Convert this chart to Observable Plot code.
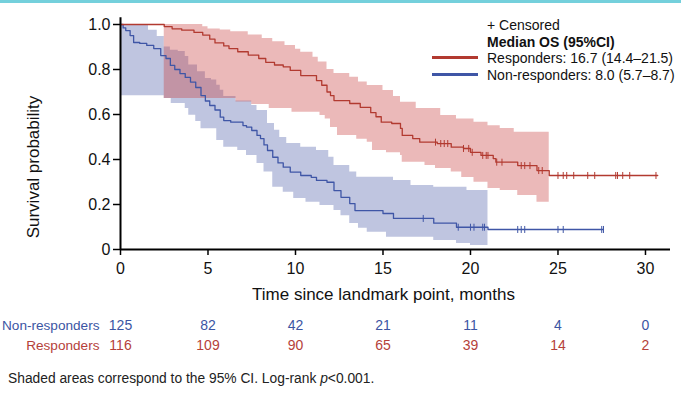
<!DOCTYPE html>
<html>
<head>
<meta charset="utf-8">
<script src="https://cdn.jsdelivr.net/npm/d3@7"></script>
<script src="https://cdn.jsdelivr.net/npm/@observablehq/plot@0.6"></script>
<style>
  html, body { margin: 0; padding: 0; background: #fff; }
  body { width: 681px; height: 396px; overflow: hidden; font-family: "Liberation Sans", Arial, sans-serif; }
  #wrap { position: relative; width: 681px; height: 396px; }
  #topbar { height: 3px; background: #74d0dc; }
  .lg { position: absolute; font-size: 14px; color: #111; white-space: nowrap; line-height: 16px; }
  .sw { position: absolute; height: 3px; width: 46px; }
  #cap { position: absolute; left: 8px; top: 371px; font-size: 13.8px; color: #222; white-space: nowrap; }
</style>
</head>
<body>
<div id="wrap">
  <div id="topbar"></div>
  <div id="chart"></div>
  <div class="lg" style="left:487px; top:17px;">+ Censored</div>
  <div class="lg" style="left:487px; top:34px; font-weight:bold;">Median OS (95%CI)</div>
  <div class="sw" style="left:432px; top:56px; background:#b23a30;"></div>
  <div class="lg" style="left:487px; top:50px;">Responders: 16.7 (14.4–21.5)</div>
  <div class="sw" style="left:432px; top:73px; background:#3f56a6;"></div>
  <div class="lg" style="left:487px; top:67px;">Non-responders: 8.0 (5.7–8.7)</div>
  <div id="cap">Shaded areas correspond to the 95% CI. Log-rank <i>p</i>&lt;0.001.</div>
</div>
<script>
// ---------- data ----------
const xTicks = [0, 5, 10, 15, 20, 25, 30];
const yTicks = [0, 0.2, 0.4, 0.6, 0.8, 1.0];
const groups = ["Non-responders", "Responders"];
const riskNon = [125, 82, 42, 21, 11, 4, 0];
const riskResp = [116, 109, 90, 65, 39, 14, 2];

// Responders KM (step-after)
const respT = [0, 2.5, 2.95, 3.5, 4.2, 4.7, 5.1, 5.4, 5.9, 6.2, 6.7, 7.3, 7.9, 8.3, 8.8, 9.3, 9.7, 10.3, 11.2, 11.5, 11.8, 12.0, 12.2, 13.1, 13.7, 14.3, 14.6, 14.9, 15.5, 16.0, 16.1, 16.7, 17.1, 18.1, 18.9, 19.6, 20.0, 20.6, 21.3, 21.45, 22.7, 23.8, 24.5, 30.7];
const respS = [1.0, 0.991, 0.981, 0.975, 0.965, 0.953, 0.935, 0.918, 0.905, 0.893, 0.879, 0.864, 0.849, 0.832, 0.82, 0.812, 0.796, 0.773, 0.751, 0.73, 0.70, 0.684, 0.662, 0.649, 0.632, 0.608, 0.59, 0.566, 0.56, 0.538, 0.507, 0.493, 0.477, 0.471, 0.455, 0.449, 0.432, 0.418, 0.404, 0.388, 0.373, 0.351, 0.329, 0.329];
const respHiT = [2.5, 4.7, 5.0, 5.7, 6.3, 7.3, 8.1, 8.7, 9.4, 10.0, 10.3, 11.0, 11.3, 11.8, 12.2, 13.1, 13.6, 14.1, 15.0, 15.6, 16.0, 16.9, 18.3, 19.2, 20.2, 21.0, 21.7, 22.5, 24.5];
const respHi = [1.0, 0.99, 0.98, 0.976, 0.968, 0.953, 0.938, 0.923, 0.907, 0.89, 0.877, 0.855, 0.833, 0.80, 0.782, 0.766, 0.745, 0.729, 0.707, 0.68, 0.655, 0.627, 0.596, 0.58, 0.566, 0.55, 0.538, 0.521, 0.521];
const respLoT = [2.5, 6.6, 7.5, 8.5, 9.8, 11.4, 11.7, 12.0, 12.4, 13.5, 14.1, 14.4, 15.2, 16.0, 16.1, 17.4, 18.0, 18.9, 19.5, 20.2, 21.0, 21.7, 22.7, 23.8, 24.5];
const respLo = [0.671, 0.656, 0.645, 0.627, 0.61, 0.596, 0.58, 0.542, 0.507, 0.49, 0.477, 0.44, 0.43, 0.418, 0.388, 0.373, 0.36, 0.344, 0.32, 0.299, 0.271, 0.262, 0.24, 0.21, 0.21];
const respCens = [18.0, 18.3, 18.5, 18.7, 19.6, 19.9, 20.1, 20.7, 20.9, 21.0, 21.5, 21.8, 22.9, 23.1, 23.4, 23.9, 24.1, 25.0, 25.3, 25.5, 25.9, 26.7, 27.1, 28.3, 28.4, 28.7, 29.1, 30.6];

// Non-responders KM (step-after)
const nonT = [0, 0.15, 0.3, 0.55, 0.75, 1.1, 1.5, 1.9, 2.3, 2.6, 2.85, 3.1, 3.4, 3.7, 4.0, 4.3, 4.6, 4.85, 5.1, 5.4, 5.7, 5.9, 6.3, 7.0, 7.2, 7.5, 7.8, 8.0, 8.2, 8.4, 8.7, 9.0, 9.3, 9.7, 10.3, 10.9, 11.2, 11.8, 12.2, 12.6, 13.1, 13.4, 15.0, 15.6, 17.9, 19.2, 21.0, 27.6];
const nonS = [1.0, 0.985, 0.973, 0.951, 0.92, 0.916, 0.907, 0.893, 0.862, 0.849, 0.818, 0.8, 0.782, 0.765, 0.744, 0.72, 0.684, 0.66, 0.64, 0.62, 0.588, 0.573, 0.566, 0.551, 0.544, 0.529, 0.507, 0.493, 0.465, 0.44, 0.41, 0.385, 0.366, 0.344, 0.329, 0.321, 0.307, 0.299, 0.262, 0.232, 0.204, 0.173, 0.16, 0.138, 0.117, 0.099, 0.089, 0.089];
const nonHiT = [0, 1.6, 2.1, 2.5, 2.85, 3.3, 3.7, 3.9, 4.4, 4.85, 5.2, 5.5, 5.7, 5.9, 6.6, 7.5, 7.8, 8.4, 8.8, 9.1, 9.5, 10.3, 11.2, 11.9, 12.2, 13.1, 13.5, 15.6, 16.6, 17.9, 19.8, 21.0];
const nonHi = [1.0, 0.975, 0.947, 0.9, 0.886, 0.88, 0.858, 0.82, 0.79, 0.76, 0.753, 0.73, 0.708, 0.68, 0.66, 0.64, 0.618, 0.56, 0.53, 0.498, 0.471, 0.455, 0.44, 0.41, 0.373, 0.344, 0.321, 0.307, 0.284, 0.277, 0.262, 0.262];
const nonLoT = [0, 2.5, 2.9, 3.7, 3.9, 4.3, 4.6, 5.5, 5.9, 6.7, 7.2, 7.8, 8.2, 8.7, 9.3, 9.9, 10.6, 11.4, 12.2, 12.6, 13.1, 13.6, 14.1, 15.2, 17.9, 19.2, 20.0, 21.0];
const nonLo = [0.683, 0.671, 0.649, 0.627, 0.597, 0.569, 0.537, 0.484, 0.455, 0.44, 0.418, 0.382, 0.344, 0.277, 0.255, 0.227, 0.21, 0.196, 0.173, 0.15, 0.116, 0.095, 0.077, 0.055, 0.04, 0.027, 0.018, 0.018];
const nonCens = [17.3, 19.3, 20.0, 20.2, 20.7, 20.8, 22.7, 22.9, 23.1, 25.0, 25.3, 27.5, 27.6];

// ---------- helpers ----------
const stepAt = (T, S, t) => { let v = S[0]; for (let i = 0; i < T.length; i++) { if (T[i] <= t) v = S[i]; else break; } return v; };
const curve = (T, S) => T.map((t, i) => ({t, s: S[i]}));
const band = (hT, h, lT, l) => {
  const ts = Array.from(new Set([...hT, ...lT])).sort((a, b) => a - b);
  return ts.map(t => ({t, hi: stepAt(hT, h, t), lo: stepAt(lT, l, t)}));
};
const cens = (C, T, S) => C.map(t => ({t, s: stepAt(T, S, t)}));

const RED = "#b23a30", BLUE = "#3f56a6";
const tick = { draw(ctx, size) { const r = Math.sqrt(size / Math.PI); ctx.moveTo(0, -r); ctx.lineTo(0, r); } };

const fam = '"Liberation Sans", Arial, sans-serif';
const chart = Plot.plot({
  width: 681, height: 360,
  marginLeft: 120, marginRight: 11, marginTop: 21, marginBottom: 114,
  x: {domain: [0, 31.43]},
  y: {domain: [0, 1]},
  style: {fontFamily: fam, fontSize: "16px", color: "#111", overflow: "visible"},
  marks: [
    Plot.areaY(band(nonHiT, nonHi, nonLoT, nonLo), {x: "t", y1: "lo", y2: "hi", curve: "step-after", fill: "#3c50a0", fillOpacity: 0.33}),
    Plot.areaY(band(respHiT, respHi, respLoT, respLo), {x: "t", y1: "lo", y2: "hi", curve: "step-after", fill: "#c83c3c", fillOpacity: 0.36}),
    Plot.line(curve(nonT, nonS), {x: "t", y: "s", curve: "step-after", stroke: BLUE, strokeWidth: 1.3}),
    Plot.line(curve(respT, respS), {x: "t", y: "s", curve: "step-after", stroke: RED, strokeWidth: 1.3}),
    Plot.dot(cens(nonCens, nonT, nonS), {x: "t", y: "s", symbol: tick, r: 3.5, stroke: BLUE, strokeWidth: 1, fill: "none"}),
    Plot.dot(cens(respCens, respT, respS), {x: "t", y: "s", symbol: tick, r: 3.5, stroke: RED, strokeWidth: 1, fill: "none"}),
    Plot.axisX({ticks: xTicks, tickSize: 6, tickPadding: 7, tickFormat: d => String(d), label: null, fontSize: 16, strokeWidth: 1.5, stroke: "#000", fill: "#111"}),
    Plot.axisY({ticks: yTicks, tickSize: 7, tickPadding: 3, tickFormat: d => d === 0 ? "0" : d.toFixed(1), label: null, fontSize: 16, strokeWidth: 1.5, stroke: "#000", fill: "#111"}),
    Plot.ruleY([0], {x1: 0, x2: 31.43, stroke: "#000", strokeWidth: 2}),
    Plot.ruleX([0], {y1: 0, y2: 1.03, stroke: "#000", strokeWidth: 2}),
    Plot.text(["Time since landmark point, months"], {frameAnchor: "bottom", dx: -12, dy: 50, fontSize: 17, fill: "#111"}),
    Plot.text(["Survival probability"], {frameAnchor: "left", textAnchor: "middle", rotate: -90, dx: -87, dy: 30, fontSize: 17, fill: "#111"}),
    Plot.text(xTicks.map((t, i) => ({t, n: riskNon[i]})), {x: "t", text: "n", frameAnchor: "bottom", dy: 80, fontSize: 14, fill: "#3c55a3"}),
    Plot.text(xTicks.map((t, i) => ({t, n: riskResp[i]})), {x: "t", text: "n", frameAnchor: "bottom", dy: 100, fontSize: 14, fill: "#b5413a"}),
    Plot.text([groups[0]], {x: 0, frameAnchor: "bottom", dx: -21, dy: 80, textAnchor: "end", fontSize: 13.6, fill: "#3c55a3"}),
    Plot.text([groups[1]], {x: 0, frameAnchor: "bottom", dx: -21, dy: 100, textAnchor: "end", fontSize: 13.6, fill: "#b5413a"})
  ]
});
document.getElementById("chart").appendChild(chart);
</script>
</body>
</html>
